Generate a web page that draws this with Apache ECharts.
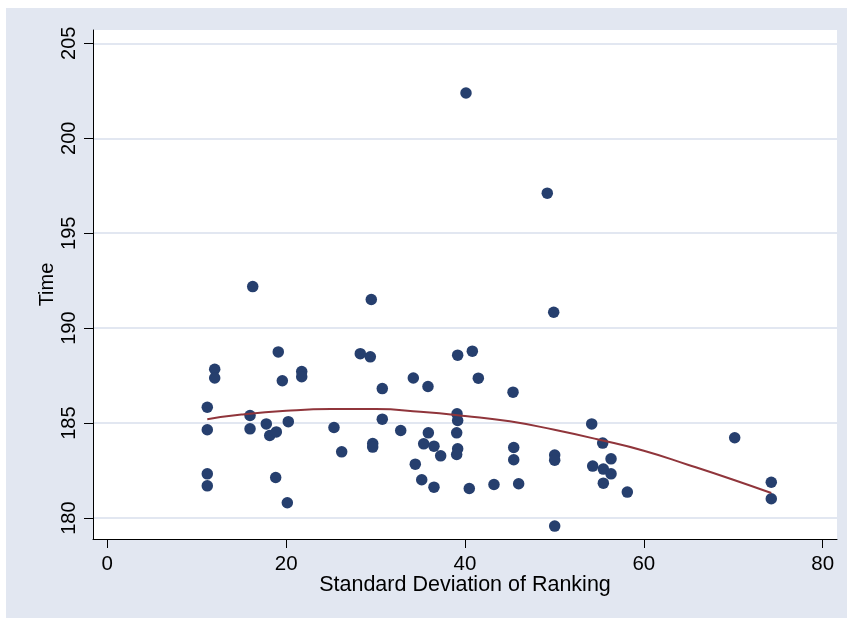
<!DOCTYPE html>
<html>
<head>
<meta charset="utf-8">
<script src="https://cdn.jsdelivr.net/npm/echarts@6/dist/echarts.min.js"></script>
<style>
html,body{margin:0;padding:0;background:#ffffff;}
#c{position:absolute;left:6px;top:8px;width:841px;height:610px;}
</style>
</head>
<body>
<div id="c"></div>
<script>
// Scatter data: Standard Deviation of Ranking (x) vs Time (y)
const sdRanking = [
  11.18, 11.18, 11.18, 11.18, 12.01, 12.01, 16.26, 15.96, 15.96, 17.78,
  18.16, 18.90, 18.83, 19.12, 19.57, 20.24, 20.13, 21.74, 21.74, 25.35,
  26.21, 28.29, 29.41, 29.52, 29.68, 29.68, 30.75, 30.75, 32.81, 34.22,
  34.44, 35.16, 35.38, 35.86, 35.90, 36.53, 36.53, 37.28, 39.18, 39.11,
  39.18, 39.07, 39.18, 39.07, 40.11, 40.82, 40.48, 41.49, 43.24, 45.37,
  45.45, 45.45, 46.00, 49.20, 49.92, 50.03, 50.03, 50.03, 54.17, 54.28,
  55.40, 55.47, 55.47, 56.33, 56.33, 58.15, 70.16, 74.25, 74.25
];
const timeValues = [
  185.84, 184.65, 182.33, 181.70, 187.84, 187.38, 192.19, 185.40, 184.70, 184.96,
  184.35, 184.54, 182.14, 188.75, 187.23, 185.08, 180.81, 187.72, 187.44, 184.77,
  183.49, 188.66, 188.49, 191.51, 183.93, 183.74, 186.82, 185.21, 184.61, 187.38,
  182.84, 182.02, 183.91, 186.93, 184.49, 183.79, 181.63, 183.28, 188.58, 185.49,
  185.14, 184.49, 183.65, 183.35, 202.38, 188.79, 181.56, 187.37, 181.77, 186.63,
  183.72, 183.07, 181.81, 197.11, 190.84, 183.32, 183.05, 179.58, 184.96, 182.74,
  183.95, 182.58, 181.84, 183.12, 182.33, 181.37, 184.23, 181.89, 181.02
];
// Fitted curve
const fitX = [11.18, 15, 20, 25, 30, 35, 40, 45, 50, 55, 60, 65, 70, 74.25];
const fitY = [185.21, 185.45, 185.65, 185.74, 185.74, 185.60, 185.38, 185.10, 184.65, 184.13, 183.55, 182.80, 182.02, 181.32];

const xTicks = [0, 20, 40, 60, 80];
const yTicks = [180, 185, 190, 195, 200, 205];

const scatterData = sdRanking.map((x, i) => [x, timeValues[i]]);
const fitData = fitX.map((x, i) => [x, fitY[i]]);

const FONT = 'Liberation Sans, Arial, sans-serif';
const chart = echarts.init(document.getElementById('c'), null, {renderer: 'canvas'});
chart.setOption({
  backgroundColor: '#E2E7F1',
  animation: false,
  grid: {
    left: 87, top: 22, width: 744, height: 509,
    show: true, backgroundColor: '#ffffff', borderWidth: 0
  },
  xAxis: {
    type: 'value',
    min: -1.6, max: 81.6,
    name: 'Standard Deviation of Ranking',
    nameLocation: 'middle',
    nameGap: 35,
    nameMoveOverlap: false,
    nameTextStyle: {color: '#000', fontSize: 21.5, fontFamily: FONT},
    axisLine: {show: true, onZero: false, lineStyle: {color: '#000', width: 1}},
    axisTick: {show: true, length: 9, customValues: xTicks, lineStyle: {color: '#000', width: 1}},
    axisLabel: {customValues: xTicks, color: '#000', fontSize: 20.5, fontFamily: FONT, margin: 15},
    splitLine: {show: false}
  },
  yAxis: {
    type: 'value',
    min: 178.9, max: 205.7,
    name: 'Time',
    nameLocation: 'middle',
    nameGap: 36,
    nameRotate: 90,
    nameMoveOverlap: false,
    nameTextStyle: {color: '#000', fontSize: 20, fontFamily: FONT},
    axisLine: {show: true, onZero: false, lineStyle: {color: '#000', width: 1}},
    axisTick: {show: true, length: 9, customValues: yTicks, lineStyle: {color: '#000', width: 1}},
    axisLabel: {customValues: yTicks, rotate: 90, color: '#000', fontSize: 20, fontFamily: FONT, margin: 14},
    splitLine: {show: true, lineStyle: {color: '#E2E7F1', width: 2}}
  },
  series: [
    {
      type: 'scatter',
      data: scatterData,
      symbol: 'circle',
      symbolSize: 11.5,
      itemStyle: {color: '#263F6E', opacity: 1},
      z: 3
    },
    {
      type: 'line',
      data: fitData,
      smooth: true,
      showSymbol: false,
      symbol: 'none',
      lineStyle: {color: '#90353B', width: 2},
      z: 4
    }
  ]
});
</script>
</body>
</html>
